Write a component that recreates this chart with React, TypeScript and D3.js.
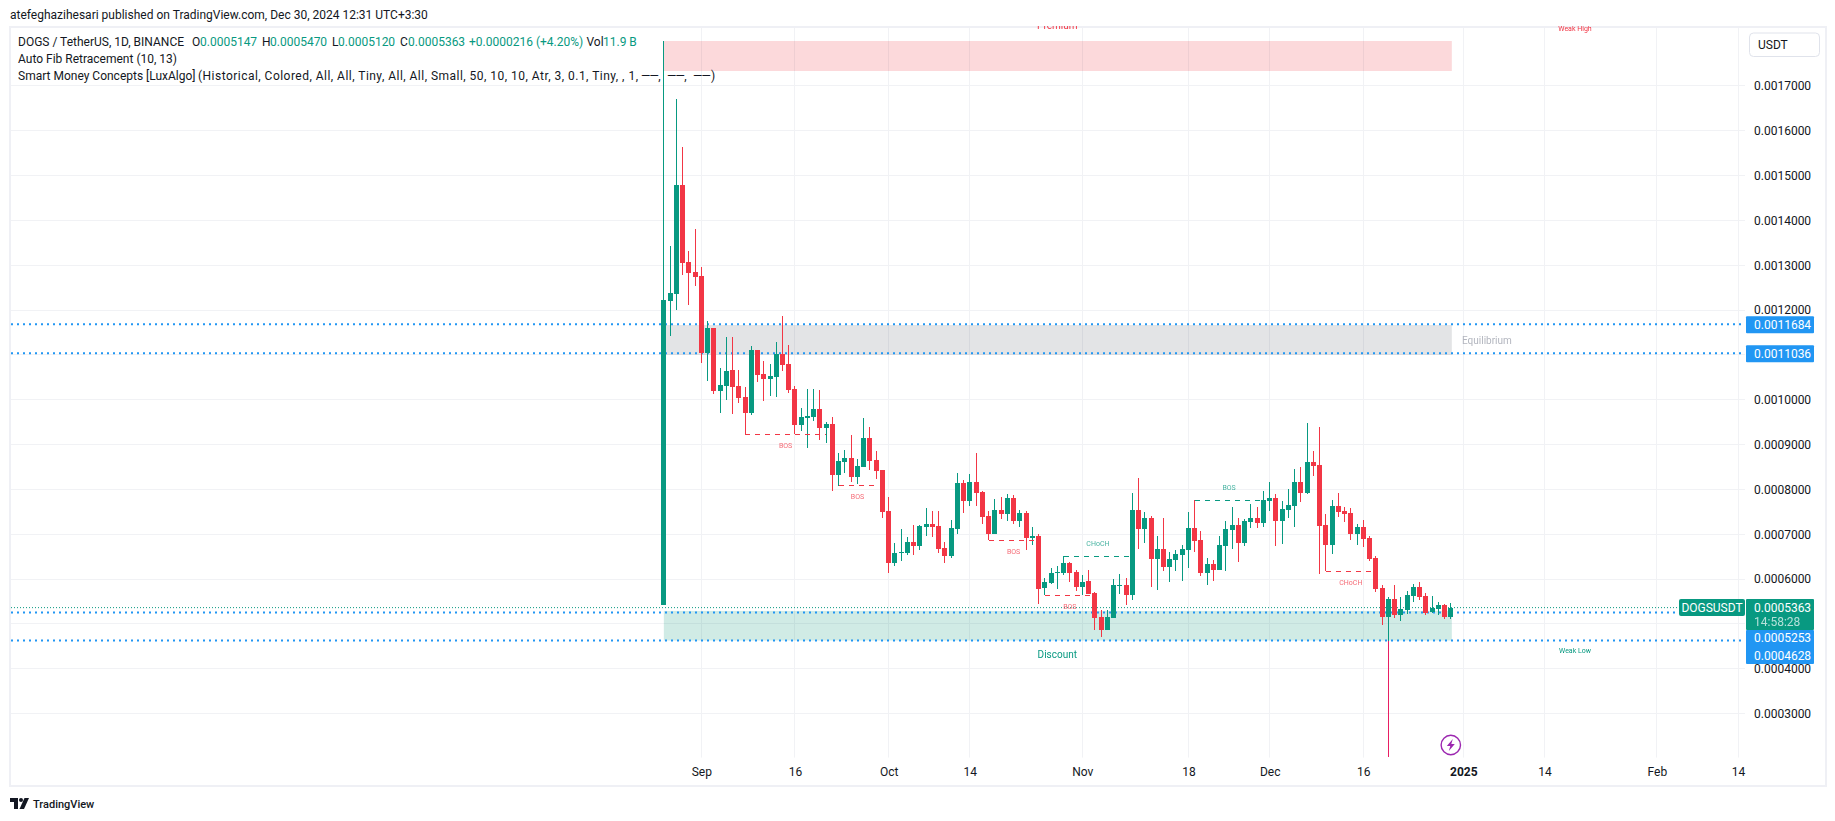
import React, { useEffect, useRef } from "react";
import * as d3 from "d3";

// prices are stored in 1e-7 USDT, first candle is 2024-08-26, one candle per day
const firstDay = Date.UTC(2024, 7, 26);
const opens = [5422,12201,12357,14787,13070,12847,12758,11041,11599,10194,10305,10662,10305,10060,9703,11108,10573,10461,10506,11019,10796,10238,9436,9592,9614,9792,9369,9458,8321,8611,8700,8276,8499,9146,8655,8432,7518,6358,6581,6581,6827,6737,7161,7228,7183,6693,6514,7116,8142,7741,8165,7941,7406,7005,7540,7451,7808,7295,7473,6916,6960,5801,5912,6135,6135,6358,6157,5823,5957,5689,5154,4864,5132,5845,5868,5644,7540,7116,7362,6447,6670,6269,6425,6536,6648,7139,6871,6135,6336,6202,6737,7094,7206,6804,7272,7362,7250,7741,7808,7295,7540,7629,8165,7919,8611,8544,7206,6760,7629,7518,7473,7005,7161,6916,6470,5801,5154,5555,5198,5310,5622,5823,5622,5265,5332,5422,5147];
const highs = [17999,13427,16705,15635,13316,13806,12959,11755,11599,10707,11398,11398,10662,10283,11197,11108,10863,10796,11286,11866,11220,10305,9815,10238,10238,10216,9503,9614,8811,8878,9213,8677,9592,9391,8856,8432,7830,6804,7116,6938,7206,7206,7585,7518,7518,6827,7317,8365,8209,8343,8811,7964,7518,7785,7830,7897,7875,7540,7518,7161,7005,6024,6247,6291,6514,6380,6202,6090,6202,5711,5310,5310,6001,6113,6024,7919,8254,7495,7406,6960,7362,6603,6648,6760,7495,7763,7072,6470,6425,6960,7295,7607,7362,7339,7674,7607,7964,8165,7897,7741,8008,8454,8499,9480,8856,9391,7451,7763,7919,7607,7585,7228,7317,6960,6514,5868,5600,5868,5600,5734,5890,5934,5689,5622,5488,5444,5470];
const lows = [5422,11420,12000,12780,12112,12535,10818,10417,10127,9703,9993,9681,9926,9235,9659,10394,9971,10082,10060,10640,10149,9235,9302,8923,9525,9101,9034,7964,8075,8365,8165,8120,8499,8432,8232,7362,6135,6291,6403,6536,6536,6648,6960,6938,6581,6358,6470,7005,7473,7629,7629,7228,6871,7005,7339,7295,7228,7161,6648,6760,5444,5644,5890,5778,6090,5934,5734,5644,5667,4864,4708,4864,5132,5667,5422,5533,6670,6804,5823,5756,6180,5934,6180,5957,6247,6603,6068,5868,5957,6202,6180,6670,6380,6737,7139,7139,7161,7518,6737,6782,7362,7161,7719,7897,8298,6113,6180,6559,7384,7272,6871,6760,6715,6403,5711,4975,4619,5132,5065,5221,5488,5533,5198,5243,5198,5109,5120];
const closes = [12223,12379,14787,13048,12825,12736,11041,11599,10194,10328,10640,10283,10038,9703,11108,10551,10461,10528,11019,10774,10216,9436,9614,9636,9792,9369,9458,8321,8633,8700,8276,8521,9146,8633,8410,7495,6358,6581,6603,6827,6737,7183,7228,7161,6670,6514,7139,8142,7741,8165,7919,7384,7005,7540,7451,7808,7295,7473,6916,6960,5778,5934,6135,6157,6358,6135,5823,5934,5667,5132,4864,5154,5868,5868,5644,7540,7116,7362,6447,6670,6269,6447,6559,6670,7139,6849,6135,6336,6202,6760,7116,7206,6804,7295,7362,7250,7763,7808,7295,7562,7652,8165,7919,8611,8521,7183,6760,7629,7495,7451,7005,7161,6893,6447,5778,5154,5555,5198,5332,5644,5823,5600,5243,5355,5422,5147,5363];

const priceTicks = [3000,4000,6000,7000,8000,9000,10000,11000,12000,13000,14000,15000,16000,17000];
const gridPrices = [3000,4000,5000,6000,7000,8000,9000,10000,11000,12000,13000,14000,15000,16000,17000];
const timeTicks = [[2024,8,1],[2024,8,16],[2024,9,1],[2024,9,14],[2024,10,1],[2024,10,18],[2024,11,1],[2024,11,16],[2025,0,1],[2025,0,14],[2025,1,1],[2025,1,14]].map(d => Date.UTC(d[0], d[1], d[2]));
const timeLabels = ["Sep","16","Oct","14","Nov","18","Dec","16","2025","14","Feb","14"];

const fibLevels = [11684, 11036, 5253, 4628];
const lastPrice = 5363;

// smart money zones: top, bottom, colour
const zones = [
  { top: 17999, bottom: 17330, fill: "#fcd9db" },
  { top: 11665, bottom: 11000, fill: "#e3e4e6" },
  { top: 5290, bottom: 4630, fill: "#d0ebe5" },
];

// structure breaks: candle index from/to, level
const breaks = [
  { from: 13, to: 26, price: 9235, label: "BOS", up: false },
  { from: 28, to: 34, price: 8097, label: "BOS", up: false },
  { from: 52, to: 60, price: 6871, label: "BOS", up: false },
  { from: 61, to: 69, price: 5644, label: "BOS", up: false },
  { from: 64, to: 75, price: 6508, label: "CHoCH", up: true },
  { from: 85, to: 96, price: 7757, label: "BOS", up: true },
  { from: 106, to: 114, price: 6173, label: "CHoCH", up: false },
];

const GREEN = "#089981";
const RED = "#f23645";
const BLUE = "#2196f3";
const TEXT = "#131722";
const GRID = "#f1f2f5";
const FRAME = "#eff0f5";
const FONT = "Roboto, sans-serif";

const App: React.FC = () => {
  const ref = useRef<SVGSVGElement | null>(null);

  useEffect(() => {
    if (!ref.current) return;
    const svg = d3.select(ref.current);
    svg.selectAll("*").remove();

    const plotRight = 1745;
    const plotBottom = 757.5;

    const x = d3.scaleUtc().domain([Date.UTC(2024, 8, 1), Date.UTC(2025, 0, 1)]).range([701.3, 1463.3]);
    const y = d3.scaleLinear().domain([17000, 3000]).range([85.8, 713.6]);
    const dayX = (i: number) => x(firstDay + i * 86400000);

    svg.append("rect").attr("width", 1835).attr("height", 821).attr("fill", "#ffffff");

    const defs = svg.append("defs");
    defs.append("clipPath").attr("id", "plot").append("rect")
      .attr("x", 11).attr("y", 26).attr("width", plotRight - 11).attr("height", plotBottom - 26);

    // frame
    const frame = svg.append("g").attr("fill", FRAME);
    frame.append("rect").attr("x", 9).attr("y", 26).attr("width", 1818).attr("height", 2);
    frame.append("rect").attr("x", 9).attr("y", 785).attr("width", 1818).attr("height", 2);
    frame.append("rect").attr("x", 9).attr("y", 26).attr("width", 2).attr("height", 761);
    frame.append("rect").attr("x", 1825).attr("y", 26).attr("width", 2).attr("height", 761);

    const plot = svg.append("g").attr("clip-path", "url(#plot)");

    // grid
    const grid = plot.append("g").attr("stroke", GRID).attr("stroke-width", 1).attr("shape-rendering", "crispEdges");
    gridPrices.forEach(p => {
      grid.append("line").attr("x1", 11).attr("x2", plotRight).attr("y1", y(p)).attr("y2", y(p));
    });
    timeTicks.forEach(t => {
      grid.append("line").attr("x1", x(t)).attr("x2", x(t)).attr("y1", 28).attr("y2", plotBottom);
    });

    // zones
    zones.forEach(z => {
      plot.append("rect")
        .attr("x", dayX(0))
        .attr("width", dayX(opens.length - 1) + 1 - dayX(0))
        .attr("y", y(z.top))
        .attr("height", y(z.bottom) - y(z.top))
        .attr("fill", z.fill)
        .style("mix-blend-mode", "multiply");
    });

    // fib lines and last price line
    fibLevels.forEach(p => {
      plot.append("line").attr("x1", 11).attr("x2", plotRight + 1).attr("y1", y(p)).attr("y2", y(p))
        .attr("stroke", BLUE).attr("stroke-width", 2).attr("stroke-dasharray", "2,4");
    });
    plot.append("line").attr("x1", 11).attr("x2", plotRight).attr("y1", y(lastPrice)).attr("y2", y(lastPrice))
      .attr("stroke", GREEN).attr("stroke-width", 1).attr("stroke-dasharray", "1,2");

    // candles
    const candles = plot.append("g").attr("shape-rendering", "crispEdges");
    opens.forEach((o, i) => {
      const c = closes[i];
      const color = c >= o ? GREEN : RED;
      const left = Math.round(dayX(i) - 2.5);
      candles.append("rect").attr("x", left + 2).attr("width", 1)
        .attr("y", y(highs[i])).attr("height", y(lows[i]) - y(highs[i])).attr("fill", color);
      candles.append("rect").attr("x", left).attr("width", 5)
        .attr("y", y(Math.max(o, c))).attr("height", Math.max(1, y(Math.min(o, c)) - y(Math.max(o, c)))).attr("fill", color);
    });
    // long pink wick under the Dec 20 candle
    plot.append("rect").attr("x", Math.round(dayX(116) - 2.5) + 2).attr("width", 1)
      .attr("y", y(4619)).attr("height", y(2032) - y(4619)).attr("fill", "#e91e63");

    // structure breaks
    breaks.forEach(b => {
      const color = b.up ? GREEN : RED;
      plot.append("line").attr("x1", dayX(b.from)).attr("x2", dayX(b.to)).attr("y1", y(b.price)).attr("y2", y(b.price))
        .attr("stroke", color).attr("stroke-width", 1).attr("stroke-dasharray", "5,5").attr("shape-rendering", "crispEdges");
      plot.append("text").attr("x", (dayX(b.from) + dayX(b.to)) / 2).attr("y", y(b.price) + (b.up ? -12 : 12))
        .attr("text-anchor", "middle").attr("dominant-baseline", "middle")
        .attr("font-family", FONT).attr("font-size", 7).attr("fill", color).attr("opacity", 0.75).text(b.label);
    });

    // zone labels
    const mid = (dayX(0) + dayX(opens.length - 1)) / 2;
    const zoneText = (tx: number, ty: number, s: string, color: string, size: number, anchor = "middle") => {
      plot.append("text").attr("x", tx).attr("y", ty).attr("text-anchor", anchor).attr("dominant-baseline", "middle")
        .attr("font-family", FONT).attr("font-size", size).attr("fill", color).text(s);
    };
    zoneText(mid, 26, "Premium", RED, 10);
    zoneText(1575, 29.5, "Weak High", RED, 7);
    zoneText(1462, 341.5, "Equilibrium", "#b2b5be", 10, "start");
    zoneText(mid, 655, "Discount", GREEN, 10);
    zoneText(1575, 651, "Weak Low", GREEN, 7);

    // price axis
    const yAxis = d3.axisRight(y).tickValues(priceTicks).tickSize(0).tickPadding(0)
      .tickFormat(d => ((d as number) / 1e7).toFixed(7));
    const yg = svg.append("g").attr("transform", "translate(1754,0)").call(yAxis);
    yg.select(".domain").remove();
    yg.selectAll("text").attr("font-family", FONT).attr("font-size", 12).attr("fill", TEXT);

    // time axis
    const xAxis = d3.axisBottom(x).tickValues(timeTicks).tickSize(0).tickPadding(0)
      .tickFormat((_, i) => timeLabels[i]);
    const xg = svg.append("g").attr("transform", "translate(0,767)").call(xAxis);
    xg.select(".domain").remove();
    xg.selectAll("text").attr("font-family", FONT).attr("font-size", 12).attr("fill", TEXT)
      .attr("font-weight", (_, i) => (timeLabels[i] === "2025" ? 700 : 400));

    // price tags
    const tag = (top: number, h: number, fill: string) => {
      svg.append("rect").attr("x", 1746).attr("y", top).attr("width", 68).attr("height", h).attr("fill", fill).attr("rx", 1);
    };
    const tagText = (cy: number, s: string, opacity = 1) => {
      svg.append("text").attr("x", 1754).attr("y", cy).attr("dominant-baseline", "central")
        .attr("font-family", FONT).attr("font-size", 12).attr("fill", "#ffffff").attr("opacity", opacity).text(s);
    };
    tag(y(11684) - 8, 17, BLUE); tagText(y(11684) + 0.5, "0.0011684");
    tag(y(11036) - 8, 17, BLUE); tagText(y(11036) + 0.5, "0.0011036");
    tag(599, 31, GREEN); tagText(607.7, "0.0005363"); tagText(621.7, "14:58:28", 0.7);
    tag(630, 34, BLUE); tagText(638, "0.0005253"); tagText(655.7, "0.0004628");

    svg.append("rect").attr("x", 1679).attr("y", 599).attr("width", 66).attr("height", 17).attr("fill", GREEN).attr("rx", 2);
    svg.append("text").attr("x", 1712).attr("y", 607.7).attr("text-anchor", "middle").attr("dominant-baseline", "central")
      .attr("font-family", FONT).attr("font-size", 12).attr("fill", "#ffffff").text("DOGSUSDT");

    // currency button
    svg.append("rect").attr("x", 1749.5).attr("y", 33).attr("width", 70).attr("height", 23.5).attr("rx", 4)
      .attr("fill", "#ffffff").attr("stroke", "#e0e3eb");
    svg.append("text").attr("x", 1758).attr("y", 45).attr("dominant-baseline", "central")
      .attr("font-family", FONT).attr("font-size", 12).attr("fill", TEXT).text("USDT");

    // header and legend
    const label = (tx: number, cy: number, s: string, color = TEXT, size = 12) =>
      svg.append("text").attr("x", tx).attr("y", cy).attr("dominant-baseline", "central")
        .attr("font-family", FONT).attr("font-size", size).attr("fill", color).text(s);
    label(10, 15, "atefeghazihesari published on TradingView.com, Dec 30, 2024 12:31 UTC+3:30");
    label(18, 41.7, "DOGS / TetherUS, 1D, BINANCE");
    label(192, 41.7, "O"); label(200, 41.7, "0.0005147", GREEN);
    label(262, 41.7, "H"); label(270, 41.7, "0.0005470", GREEN);
    label(332, 41.7, "L"); label(338, 41.7, "0.0005120", GREEN);
    label(400, 41.7, "C"); label(408, 41.7, "0.0005363", GREEN);
    label(469, 41.7, "+0.0000216 (+4.20%)", GREEN);
    label(586.5, 41.7, "Vol"); label(603, 41.7, "11.9 B", GREEN);
    label(18, 58.7, "Auto Fib Retracement (10, 13)");
    label(18, 76, "Smart Money Concepts [LuxAlgo]");
    label(198, 76, "(Historical, Colored, All, All, Tiny, All, All, Small, 50, 10, 10, Atr, 3, 0.1, Tiny, , 1,")
      .attr("textLength", 440).attr("lengthAdjust", "spacing");
    label(641, 76, "\u2014\u2014,").attr("letter-spacing", -0.8);
    label(667, 76, "\u2014\u2014,").attr("letter-spacing", -0.8);
    label(693, 76, "\u2014\u2014").attr("letter-spacing", -0.8);
    label(711, 76, ")");

    // lightning marker
    const bolt = svg.append("g").attr("transform", `translate(${dayX(126)},745)`);
    bolt.append("circle").attr("r", 9.7).attr("fill", "#ffffff").attr("stroke", "#9c27b0").attr("stroke-width", 1.4);
    bolt.append("path").attr("d", "M2,-6 L-4,1 L-0.5,1 L-2,6 L4,-1 L0.5,-1 Z").attr("fill", "#9c27b0");

    // logo
    const logo = svg.append("g").attr("transform", "translate(10,798)").attr("fill", TEXT);
    logo.append("path").attr("d", "M0,0 H8 V11 H4 V4 H0 Z");
    logo.append("circle").attr("cx", 11).attr("cy", 2).attr("r", 2);
    logo.append("path").attr("d", "M14.5,0 H19 L14,11 H9.5 Z");
    svg.append("text").attr("x", 33).attr("y", 804).attr("dominant-baseline", "central")
      .attr("font-family", FONT).attr("font-size", 11).attr("font-weight", 500).attr("fill", TEXT).text("TradingView");
  }, []);

  return <svg ref={ref} width={1835} height={821} style={{ position: "absolute", left: 0, top: 0 }} />;
};

export default App;
